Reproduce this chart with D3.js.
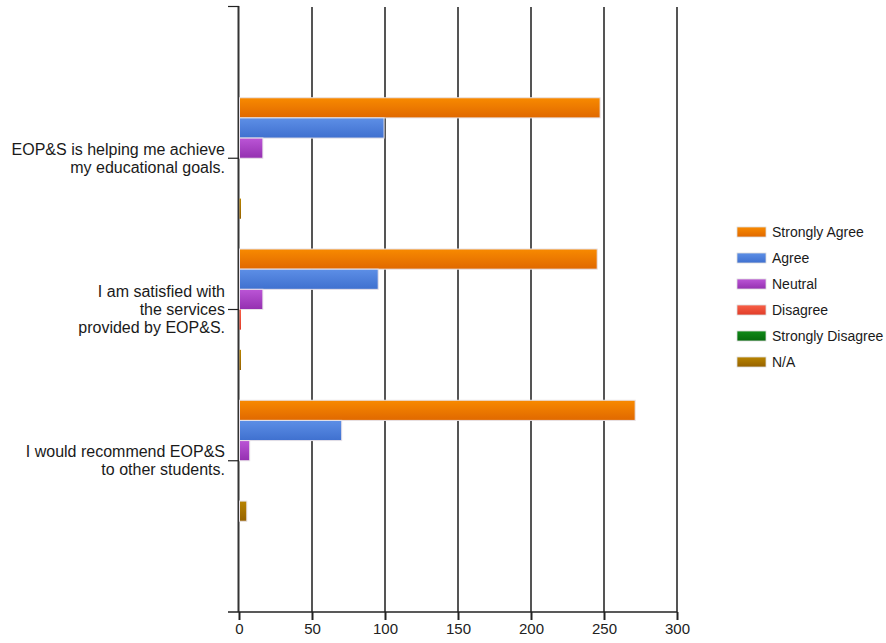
<!DOCTYPE html>
<html>
<head>
<meta charset="utf-8">
<script src="https://cdn.jsdelivr.net/npm/d3@7"></script>
<style>
  html, body { margin: 0; padding: 0; background: #fff; }
  svg { display: block; font-family: "Liberation Sans", Arial, sans-serif; }
</style>
</head>
<body>
<svg id="chart" width="886" height="643"></svg>
<script>
// ---- data ----
const categories = [
  "EOP&S is helping me achieve\nmy educational goals.",
  "I am satisfied with\nthe services\nprovided by EOP&S.",
  "I would recommend EOP&S\nto other students."
];
const seriesNames = ["Strongly Agree", "Agree", "Neutral", "Disagree", "Strongly Disagree", "N/A"];
const stronglyAgree = [247, 245, 271];
const agree = [99, 95, 70];
const neutral = [16, 16, 7];
const disagree = [0, 1, 0];
const stronglyDisagree = [0, 0, 0];
const na = [1, 1, 5];
const xTicks = [0, 50, 100, 150, 200, 250, 300];

const seriesValues = [stronglyAgree, agree, neutral, disagree, stronglyDisagree, na];
const colors = [
  ["#f88a00", "#e06800"],
  ["#5d8fe6", "#3f70cf"],
  ["#bb55d6", "#9430b0"],
  ["#f86048", "#e03c28"],
  ["#108a18", "#066a0c"],
  ["#b88400", "#966200"]
];

// ---- layout ----
const svg = d3.select("#chart");
const pLeft = 239, pRight = 677, pTop = 7, pBottom = 612;

const x = d3.scaleLinear().domain([0, 300]).range([pLeft, pRight]);
const y = d3.scalePoint().domain(d3.range(categories.length)).range([pTop, pBottom]).padding(1);
const inner = d3.scaleBand().domain(seriesNames).range([-60.5, 60.5]).paddingInner(0);

// gradients
const defs = svg.append("defs");
colors.forEach((c, i) => {
  const g = defs.append("linearGradient").attr("id", "g" + i)
    .attr("x1", 0).attr("y1", 0).attr("x2", 0).attr("y2", 1);
  g.append("stop").attr("offset", "0%").attr("stop-color", c[0]);
  g.append("stop").attr("offset", "100%").attr("stop-color", c[1]);
});

// gridlines
svg.append("g").selectAll("line").data(xTicks.slice(1)).join("line")
  .attr("x1", d => x(d)).attr("x2", d => x(d))
  .attr("y1", pTop).attr("y2", pBottom)
  .attr("stroke", "#555").attr("stroke-width", 2);

// y axis line (drawn beneath the bars)
svg.append("line").attr("x1", pLeft - 0.5).attr("x2", pLeft - 0.5).attr("y1", pTop - 1).attr("y2", pBottom)
  .attr("stroke", "#333").attr("stroke-width", 2);

// bars
const bars = [];
seriesValues.forEach((vals, si) => {
  vals.forEach((v, ci) => bars.push({ si, ci, v }));
});
svg.append("g").selectAll("rect").data(bars.filter(d => d.v > 0)).join("rect")
  .attr("x", x(0) + 0.5)
  .attr("y", d => y(d.ci) + inner(seriesNames[d.si]))
  .attr("width", d => Math.max(1.5, x(d.v) - x(0)))
  .attr("height", inner.bandwidth())
  .attr("fill", d => `url(#g${d.si})`)
  .attr("stroke", d => (x(d.v) - x(0)) > 4 ? "#e8e2e8" : "none")
  .attr("stroke-width", 1);

// x axis
const xAxis = d3.axisBottom(x).tickValues(xTicks).tickSize(8).tickPadding(3);
const gx = svg.append("g").attr("transform", `translate(0,${pBottom})`).call(xAxis);
gx.select(".domain").remove();
gx.selectAll(".tick line").attr("stroke", "#222").attr("stroke-width", 2);
gx.selectAll("text").attr("font-size", 15).attr("fill", "#222")
  .attr("font-family", "Liberation Sans, Arial, sans-serif");
svg.append("line").attr("x1", 228).attr("x2", pRight).attr("y1", pBottom).attr("y2", pBottom)
  .attr("stroke", "#222").attr("stroke-width", 1.5);

svg.append("line").attr("x1", 228).attr("x2", pLeft).attr("y1", pTop - 0.5).attr("y2", pTop - 0.5)
  .attr("stroke", "#222").attr("stroke-width", 1.2);

// category ticks and labels
const yg = svg.append("g");
categories.forEach((c, i) => {
  yg.append("line").attr("x1", 228).attr("x2", pLeft).attr("y1", y(i)).attr("y2", y(i))
    .attr("stroke", "#222").attr("stroke-width", 1.2);
  const lines = c.split("\n");
  const lh = 18;
  const t = yg.append("text").attr("text-anchor", "end").attr("font-size", 16)
    .attr("fill", "#1a1a1a");
  lines.forEach((ln, k) => {
    t.append("tspan").attr("x", 225)
      .attr("y", y(i) + (k - (lines.length - 1) / 2) * lh)
      .attr("dy", "0.35em").text(ln);
  });
});

// legend
const lg = svg.append("g").attr("transform", "translate(737,232)");
seriesNames.forEach((n, i) => {
  const row = lg.append("g").attr("transform", `translate(0,${i * 26})`);
  row.append("rect").attr("x", 0).attr("y", -5).attr("width", 29).attr("height", 10)
    .attr("fill", `url(#g${i})`).attr("stroke", "#ddd").attr("stroke-width", 0.8);
  row.append("text").attr("x", 35).attr("y", 0).attr("dy", "0.35em")
    .attr("font-size", 14).attr("fill", "#1a1a1a").text(n);
});
</script>
</body>
</html>
